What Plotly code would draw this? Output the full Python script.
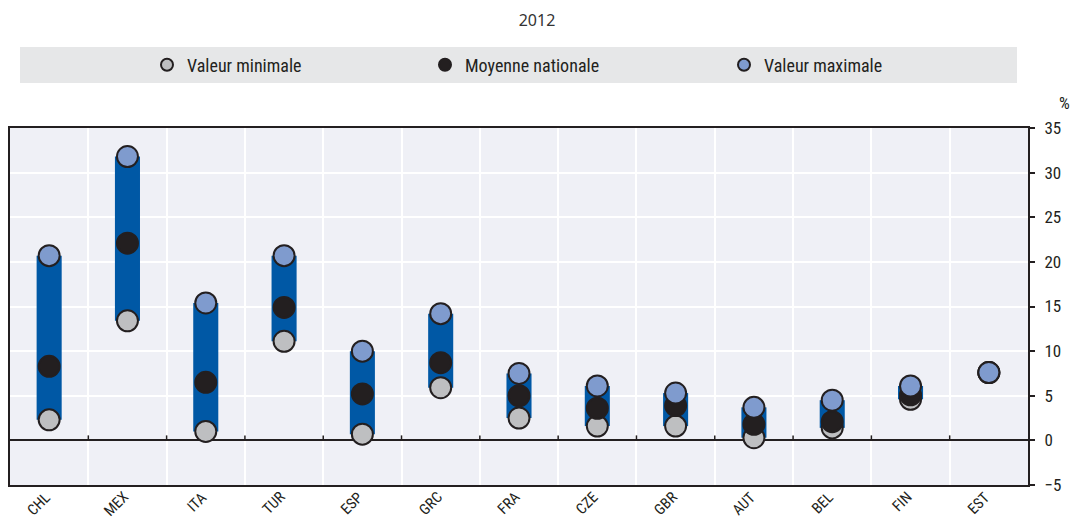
import plotly.graph_objects as go

# Regional dispersion by country, 2012 (%)
countries = ["CHL", "MEX", "ITA", "TUR", "ESP", "GRC", "FRA", "CZE", "GBR", "AUT", "BEL", "FIN", "EST"]
val_min = [2.3, 13.4, 1.0, 11.1, 0.7, 5.9, 2.5, 1.6, 1.6, 0.3, 1.4, 4.6, 7.6]
val_mean = [8.3, 22.1, 6.5, 14.9, 5.2, 8.7, 5.0, 3.6, 3.9, 1.8, 2.1, 5.1, 7.6]
val_max = [20.7, 31.8, 15.4, 20.7, 10.0, 14.2, 7.5, 6.1, 5.3, 3.7, 4.5, 6.1, 7.6]

series_names = ["Valeur minimale", "Moyenne nationale", "Valeur maximale"]
y_ticks = [-5, 0, 5, 10, 15, 20, 25, 30, 35]

FONT = "Liberation Sans Narrow, Arial Narrow, Roboto Condensed, Liberation Sans, sans-serif"
DARK = "#231F20"
BAR_BLUE = "#0058A5"
MIN_GREY = "#BEBFC1"
MAX_BLUE = "#7F9BCE"

W, H = 1074, 524
L, R, T, B = 10, 46, 128, 39

# numeric category positions; labels come from the country list
xpos = list(range(len(countries)))
boundaries = [i + 0.5 for i in range(-1, len(countries))]
inner_boundaries = boundaries[1:-1]

fig = go.Figure()

# range bar from minimum to maximum
fig.add_trace(go.Bar(
    x=xpos,
    y=[mx - mn for mn, mx in zip(val_min, val_max)],
    base=val_min,
    width=0.32,
    marker=dict(color=BAR_BLUE, line=dict(width=0)),
    showlegend=False,
    hoverinfo="skip",
))

marker_styles = [
    (val_min, MIN_GREY, "legend"),
    (val_mean, DARK, "legend2"),
    (val_max, MAX_BLUE, "legend3"),
]
for name, (vals, col, leg) in zip(series_names, marker_styles):
    fig.add_trace(go.Scatter(
        x=xpos, y=vals, mode="markers", name=name,
        marker=dict(size=21, color=col, line=dict(color=DARK, width=2)),
        legend=leg, text=countries, hovertemplate="%{text}: %{y}<extra>" + name + "</extra>",
    ))

legend_common = dict(
    orientation="h", bgcolor="rgba(0,0,0,0)", itemsizing="constant",
    font=dict(family=FONT, size=18, color=DARK),
    xref="container", yref="container", yanchor="middle",
    y=1 - 65 / H, xanchor="left",
)
legend_x = [147, 425, 724]

# short upward ticks on the zero line at category boundaries
zero_ticks = [dict(
    type="line", xref="x", yref="y", x0=b, x1=b,
    ysizemode="pixel", yanchor=0, y0=0, y1=5,
    line=dict(color=DARK, width=1.5), layer="above",
) for b in inner_boundaries]

legend_band = dict(
    type="rect", xref="paper", yref="paper",
    x0=(20 - L) / (W - L - R), x1=(1017 - L) / (W - L - R),
    y0=(H - B - 83) / (H - T - B), y1=(H - B - 47) / (H - T - B),
    fillcolor="#E6E7E8", line=dict(width=0), layer="below",
)

# slanted country labels under each category
country_labels = [dict(
    text=c, x=xp, xref="x", y=0, yref="paper", showarrow=False,
    textangle=-45, xanchor="right", yanchor="top", xshift=6, yshift=-2,
    borderpad=0, font=dict(family=FONT, size=15, color=DARK),
) for c, xp in zip(countries, xpos)]

percent_label = dict(
    text="%", xref="paper", yref="paper", x=(1064 - L) / (W - L - R),
    y=(H - B - 103) / (H - T - B), showarrow=False,
    font=dict(family=FONT, size=17, color=DARK), xanchor="center", yanchor="middle",
)

fig.update_layout(
    width=W, height=H,
    margin=dict(l=L, r=R, t=T, b=B),
    paper_bgcolor="white",
    plot_bgcolor="#EFF0F6",
    barmode="overlay",
    showlegend=True,
    legend=dict(x=legend_x[0] / W, **legend_common),
    legend2=dict(x=legend_x[1] / W, **legend_common),
    legend3=dict(x=legend_x[2] / W, **legend_common),
    title=dict(text="2012", x=0.5, xanchor="center", y=1 - 20 / H, yanchor="middle",
               font=dict(family="Noto Sans, sans-serif", size=16, color="#333333")),
    xaxis=dict(
        range=[-0.5, len(countries) - 0.5],
        tickmode="array", tickvals=xpos, showticklabels=False,
        ticks="", showgrid=False, zeroline=False,
        minor=dict(tickmode="array", tickvals=boundaries, showgrid=True,
                   gridcolor="white", gridwidth=2, ticks=""),
        showline=True, linecolor=DARK, linewidth=2, mirror=True,
        automargin=False, fixedrange=True,
    ),
    yaxis=dict(
        side="right", range=[-5, 35], tickmode="array", tickvals=y_ticks,
        ticks="outside", ticklen=5, tickwidth=1.5, tickcolor=DARK,
        ticklabelstandoff=6,
        tickfont=dict(family=FONT, size=17, color=DARK),
        showgrid=True, gridcolor="white", gridwidth=2,
        zeroline=True, zerolinecolor=DARK, zerolinewidth=2,
        showline=True, linecolor=DARK, linewidth=2, mirror=True,
        automargin=False, fixedrange=True,
    ),
    shapes=[legend_band] + zero_ticks,
    annotations=country_labels + [percent_label],
)

fig.write_html("out.html")
